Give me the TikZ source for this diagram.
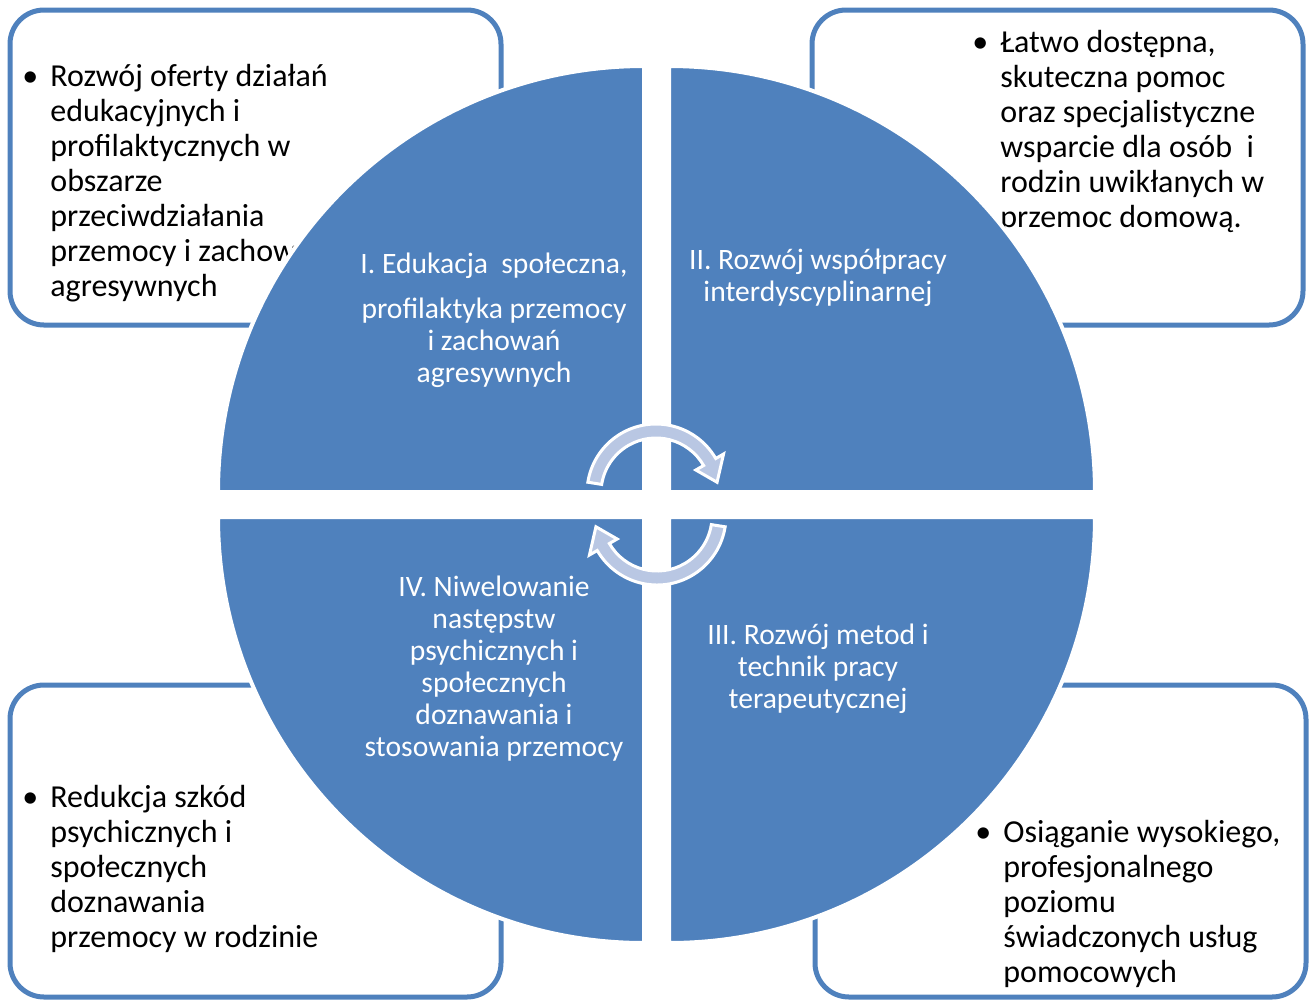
\documentclass[tikz,border=0pt]{standalone}
\usepackage{fontspec}
\setmainfont{Carlito}
\definecolor{quadblue}{HTML}{4F81BD}
\definecolor{arrowblue}{HTML}{B9C7E3}
\tikzset{
  goalbox/.style={draw=quadblue, line width=2.5pt, rounded corners=17pt, fill=white},
  goaltext/.style={anchor=base west, align=left, inner sep=0pt,
    font=\fontsize{16}{17.5}\selectfont},
  quarter/.style={fill=quadblue, draw=white, line width=2pt},
  quartertext/.style={text=white, align=center, inner sep=0pt,
    font=\fontsize{14.8}{16}\selectfont},
  cyclearrow/.style={fill=arrowblue, draw=white, line width=1.5pt},
}
\newcommand{\bul}{\llap{\textbullet\hspace{6pt}}}
\begin{document}
\begin{tikzpicture}[x=0.5pt,y=-0.5pt]
  \useasboundingbox (0,0) rectangle (1314,1003);
  % corner boxes
  \draw[goalbox] (10,10) rectangle (501,325);
  \draw[goalbox] (812,10) rectangle (1303,325);
  \draw[goalbox] (10,685) rectangle (501,997);
  \draw[goalbox] (815,685) rectangle (1306,997);
  % (base = last line)
  \node[goaltext] (aim1) at (50,296) {\bul Rozwój oferty działań\\edukacyjnych i\\profilaktycznych w\\obszarze\\przeciwdziałania\\przemocy i zachowań\\agresywnych};
  \node[goaltext] (aim2) at (1000,227) {\bul Łatwo dostępna,\\skuteczna pomoc\\oraz specjalistyczne\\wsparcie dla osób\ \ i\\rodzin uwikłanych w\\przemoc domową.};
  \node[goaltext] (aim4) at (50,947) {\bul Redukcja szkód\\psychicznych i\\społecznych\\doznawania\\przemocy w rodzinie};
  \node[goaltext] (aim3) at (1003,982) {\bul Osiąganie wysokiego,\\profesjonalnego\\poziomu\\świadczonych usług\\pomocowych};
  % quarters of the circle
  \draw[quarter] (644,492) -- (218,492) arc[start angle=180, end angle=270, radius=426] -- cycle;
  \draw[quarter] (669,492) -- (669,66) arc[start angle=270, end angle=360, radius=426] -- cycle;
  \draw[quarter] (669,517) -- (1095,517) arc[start angle=0, end angle=90, radius=426] -- cycle;
  \draw[quarter] (644,517) -- (644,943) arc[start angle=90, end angle=180, radius=426] -- cycle;
  \node[quartertext] (area1) at (494,320) {I. Edukacja\ \ społeczna,\\[6.5pt]profilaktyka przemocy\\i zachowań\\agresywnych};
  \node[quartertext] (area2) at (818,278) {II. Rozwój współpracy\\interdyscyplinarnej};
  \node[quartertext] (area3) at (818,669) {III. Rozwój metod i\\technik pracy\\terapeutycznej};
  \node[quartertext] (area4) at (494,669) {IV. Niwelowanie\\następstw\\psychicznych i\\społecznych\\doznawania i\\stosowania przemocy};
  % cycle arrows
  \begin{scope}[shift={(656,493)}]
    \draw[cyclearrow] (189:69) arc[start angle=189, end angle=330, radius=69]
      -- (330:78) -- (350:62) -- (330:46) -- (330:55)
      arc[start angle=330, end angle=189, radius=55] -- cycle;
  \end{scope}
  \begin{scope}[shift={(657,516)}, rotate=180]
    \draw[cyclearrow] (189:69) arc[start angle=189, end angle=330, radius=69]
      -- (330:78) -- (350:62) -- (330:46) -- (330:55)
      arc[start angle=330, end angle=189, radius=55] -- cycle;
  \end{scope}
\end{tikzpicture}
\end{document}
